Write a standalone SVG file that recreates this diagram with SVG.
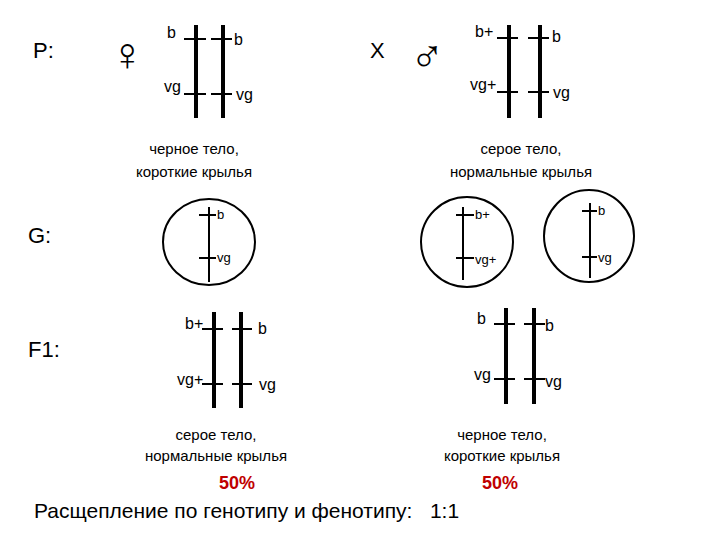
<svg xmlns="http://www.w3.org/2000/svg" width="720" height="540" viewBox="0 0 720 540">
<style>
text{font-family:"Liberation Sans",Arial,sans-serif;fill:#000}
.c{stroke:#000;stroke-width:4}
.t{stroke:#000;stroke-width:2}
.l{font-size:16px}
.s{font-size:13px}
.cap{font-size:15px;text-anchor:middle}
.big{font-size:22px}
.sym{font-size:46px;font-family:"DejaVu Sans",sans-serif;font-weight:200}
.o{fill:none;stroke:#000;stroke-width:2}
.pct{fill:#c00000;font-weight:bold;font-size:18px;text-anchor:middle}
</style>
<rect width="720" height="540" fill="#fff"/>
<text class="big" x="33" y="58">P:</text>
<text class="sym" x="110" y="70">♀&#xFE0E;</text>
<text class="big" x="370" y="58">X</text>
<text class="sym" x="410" y="72">♂&#xFE0E;</text>
<text class="big" x="28" y="243">G:</text>
<text class="big" x="28" y="357">F1:</text>
<g id="pfemale">
<line class="c" x1="196" y1="25" x2="196" y2="118"/><line class="c" x1="223" y1="25" x2="223" y2="118"/>
<line class="t" x1="184" y1="39" x2="206" y2="39"/><line class="t" x1="211" y1="39" x2="232" y2="39"/>
<line class="t" x1="184" y1="94" x2="206" y2="94"/><line class="t" x1="211" y1="94" x2="232" y2="94"/>
<text class="l" x="167" y="38">b</text><text class="l" x="234" y="45">b</text>
<text class="l" x="164" y="92">vg</text><text class="l" x="236" y="100">vg</text>
<text class="cap" x="194" y="154">черное тело,</text><text class="cap" x="194" y="177">короткие крылья</text>
</g>
<g id="pmale">
<line class="c" x1="509" y1="25" x2="509" y2="118"/><line class="c" x1="540" y1="25" x2="540" y2="118"/>
<line class="t" x1="497" y1="38" x2="518" y2="38"/><line class="t" x1="528" y1="38" x2="549" y2="38"/>
<line class="t" x1="497" y1="92" x2="518" y2="92"/><line class="t" x1="528" y1="92" x2="549" y2="92"/>
<text class="l" x="475" y="37">b+</text><text class="l" x="552" y="42">b</text>
<text class="l" x="470" y="90">vg+</text><text class="l" x="553" y="98">vg</text>
<text class="cap" x="521" y="154">серое тело,</text><text class="cap" x="521" y="177">нормальные крылья</text>
</g>
<g id="g1">
<ellipse class="o" cx="209" cy="242" rx="46" ry="43"/>
<line class="t" x1="209" y1="207" x2="209" y2="282"/>
<line class="t" x1="199" y1="215" x2="216" y2="215"/><line class="t" x1="199" y1="258" x2="216" y2="258"/>
<text class="s" x="217" y="219">b</text><text class="s" x="217" y="262">vg</text>
</g>
<g id="g2">
<ellipse class="o" cx="467" cy="242" rx="46" ry="45"/>
<line class="t" x1="463" y1="207" x2="463" y2="280"/>
<line class="t" x1="456" y1="215" x2="474" y2="215"/><line class="t" x1="456" y1="258" x2="474" y2="258"/>
<text class="s" x="475" y="219">b+</text><text class="s" x="475" y="264">vg+</text>
</g>
<g id="g3">
<ellipse class="o" cx="589" cy="236" rx="45" ry="46"/>
<line class="t" x1="590" y1="203" x2="590" y2="278"/>
<line class="t" x1="582" y1="211" x2="597" y2="211"/><line class="t" x1="582" y1="257" x2="597" y2="257"/>
<text class="s" x="598" y="215">b</text><text class="s" x="598" y="262">vg</text>
</g>
<g id="f1a">
<line class="c" x1="214" y1="312" x2="214" y2="408"/><line class="c" x1="241" y1="312" x2="241" y2="408"/>
<line class="t" x1="202" y1="329" x2="223" y2="329"/><line class="t" x1="232" y1="329" x2="252" y2="329"/>
<line class="t" x1="202" y1="384" x2="223" y2="384"/><line class="t" x1="232" y1="384" x2="252" y2="384"/>
<text class="l" x="185" y="329">b+</text><text class="l" x="258" y="334">b</text>
<text class="l" x="177" y="385">vg+</text><text class="l" x="259" y="390">vg</text>
<text class="cap" x="216" y="440">серое тело,</text><text class="cap" x="216" y="461">нормальные крылья</text>
<text class="pct" x="237" y="489">50%</text>
</g>
<g id="f1b">
<line class="c" x1="506" y1="308" x2="506" y2="404"/><line class="c" x1="534" y1="308" x2="534" y2="404"/>
<line class="t" x1="494" y1="324" x2="515" y2="324"/><line class="t" x1="524" y1="324" x2="545" y2="324"/>
<line class="t" x1="494" y1="379" x2="515" y2="379"/><line class="t" x1="524" y1="379" x2="545" y2="379"/>
<text class="l" x="477" y="324">b</text><text class="l" x="545" y="331">b</text>
<text class="l" x="474" y="380">vg</text><text class="l" x="545" y="387">vg</text>
<text class="cap" x="502" y="440">черное тело,</text><text class="cap" x="502" y="461">короткие крылья</text>
<text class="pct" x="500" y="489">50%</text>
</g>
<text x="34" y="518" style="font-size:21px" xml:space="preserve">Расщепление по генотипу и фенотипу:   1:1</text>
</svg>
